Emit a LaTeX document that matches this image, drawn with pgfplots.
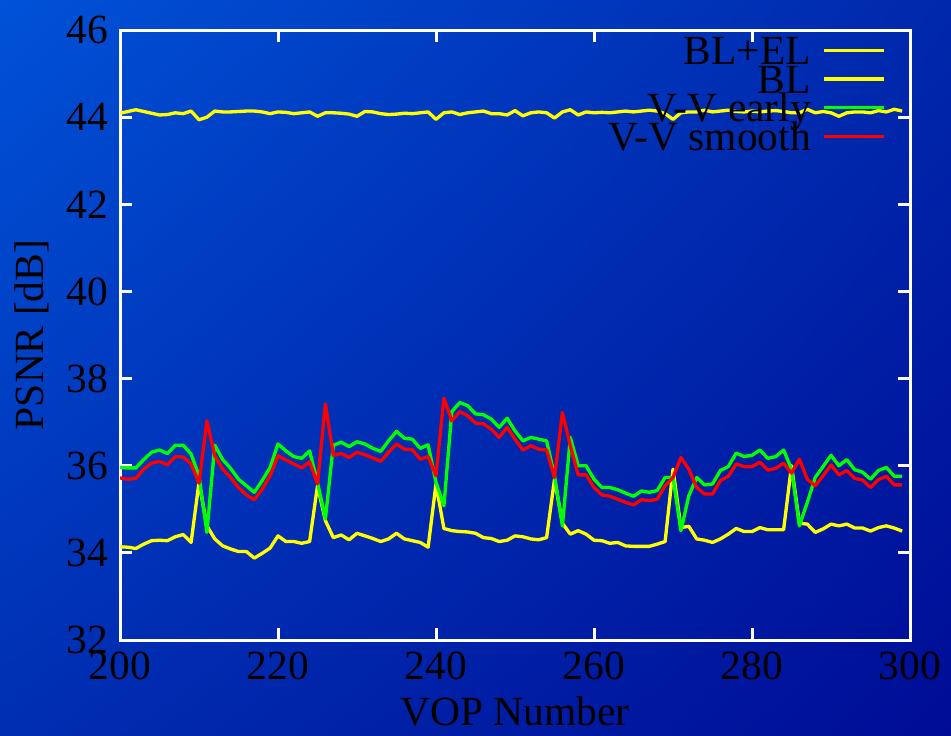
\documentclass[border=0pt]{standalone}
\usepackage{pgfplots}
\pgfplotsset{compat=1.18}
\usetikzlibrary{shadings}
\usepackage{fontspec}
\setmainfont{Liberation Serif}
\definecolor{bgTL}{RGB}{0,82,216}
\definecolor{bgTR}{RGB}{0,40,172}
\definecolor{bgBL}{RGB}{0,46,178}
\definecolor{bgBR}{RGB}{0,12,150}
\definecolor{ylw}{RGB}{255,255,0}
\definecolor{grn}{RGB}{0,255,0}
\definecolor{rd}{RGB}{255,0,0}
\pgfplotstableread{
x blel bl early smooth
200 44.09 34.14 35.96 35.72
201 44.13 34.13 35.95 35.69
202 44.17 34.10 35.95 35.71
203 44.13 34.20 36.14 35.92
204 44.09 34.28 36.31 36.06
205 44.05 34.29 36.36 36.10
206 44.06 34.28 36.28 36.02
207 44.10 34.37 36.47 36.21
208 44.08 34.42 36.47 36.20
209 44.14 34.24 36.27 36.04
210 43.94 35.62 35.77 35.60
211 44.00 34.62 34.47 37.03
212 44.14 34.32 36.47 36.23
213 44.12 34.16 36.14 35.92
214 44.12 34.09 35.94 35.73
215 44.13 34.03 35.69 35.50
216 44.14 34.03 35.54 35.33
217 44.14 33.88 35.39 35.22
218 44.12 33.99 35.66 35.46
219 44.08 34.11 35.96 35.77
220 44.12 34.39 36.50 36.23
221 44.11 34.26 36.34 36.13
222 44.08 34.26 36.21 36.04
223 44.10 34.22 36.17 35.95
224 44.12 34.26 36.34 36.09
225 44.02 35.54 35.62 35.58
226 44.10 34.74 34.78 37.42
227 44.10 34.35 36.47 36.24
228 44.09 34.41 36.54 36.28
229 44.07 34.30 36.44 36.19
230 44.02 34.45 36.55 36.31
231 44.13 34.39 36.50 36.25
232 44.12 34.33 36.40 36.18
233 44.08 34.26 36.33 36.10
234 44.06 34.32 36.57 36.31
235 44.07 34.45 36.79 36.50
236 44.09 34.32 36.63 36.38
237 44.08 34.28 36.61 36.37
238 44.10 34.24 36.40 36.15
239 44.12 34.13 36.48 36.21
240 43.95 35.58 35.62 35.77
241 44.10 34.56 35.08 37.55
242 44.12 34.51 37.24 37.03
243 44.06 34.49 37.45 37.24
244 44.10 34.48 37.38 37.15
245 44.12 34.45 37.19 36.98
246 44.14 34.35 37.17 36.96
247 44.08 34.33 37.07 36.84
248 44.08 34.26 36.88 36.65
249 44.05 34.29 37.09 36.88
250 44.15 34.39 36.80 36.61
251 44.03 34.37 36.57 36.36
252 44.10 34.32 36.65 36.46
253 44.12 34.30 36.61 36.38
254 44.10 34.35 36.57 36.36
255 43.98 35.69 35.77 35.73
256 44.12 34.68 34.62 37.22
257 44.17 34.43 36.65 36.46
258 44.05 34.51 36.00 35.79
259 44.12 34.43 36.00 35.79
260 44.10 34.29 35.69 35.50
261 44.11 34.28 35.50 35.33
262 44.10 34.22 35.50 35.30
263 44.12 34.24 35.45 35.23
264 44.14 34.16 35.37 35.16
265 44.12 34.15 35.30 35.10
266 44.14 34.15 35.42 35.22
267 44.16 34.15 35.39 35.20
268 44.14 34.20 35.43 35.23
269 44.08 34.26 35.73 35.54
270 43.95 35.92 35.73 35.73
271 44.10 34.58 34.51 36.19
272 44.12 34.61 35.31 35.92
273 44.12 34.32 35.73 35.50
274 44.16 34.29 35.56 35.35
275 44.12 34.24 35.58 35.35
276 44.14 34.32 35.89 35.66
277 44.16 34.43 35.98 35.76
278 44.13 34.56 36.29 36.04
279 44.12 34.49 36.21 35.98
280 44.14 34.49 36.24 35.98
281 44.12 34.58 36.36 36.08
282 44.14 34.53 36.17 35.90
283 44.15 34.53 36.21 35.94
284 44.13 34.53 36.36 36.06
285 44.10 36.00 35.92 35.83
286 44.10 34.68 34.62 36.15
287 44.18 34.66 35.16 35.69
288 44.10 34.47 35.73 35.54
289 44.13 34.55 35.98 35.77
290 44.10 34.66 36.24 36.02
291 44.02 34.62 36.00 35.79
292 44.10 34.66 36.14 35.89
293 44.12 34.57 35.91 35.71
294 44.12 34.57 35.85 35.67
295 44.10 34.50 35.69 35.50
296 44.15 34.58 35.89 35.68
297 44.12 34.62 35.96 35.76
298 44.18 34.57 35.76 35.56
299 44.14 34.50 35.76 35.56
}\datatable
\begin{document}
\begin{tikzpicture}
\shade[upper left=bgTL, upper right=bgTR, lower left=bgBL, lower right=bgBR] (0pt,0pt) rectangle (285.3pt,220.5pt);
\path[use as bounding box] (0pt,0pt) rectangle (285.3pt,220.5pt);
\begin{axis}[
  at={(36pt,28.5pt)}, anchor=south west,
  scale only axis, width=237pt, height=183pt,
  xmin=200, xmax=300, ymin=32, ymax=46,
  xtick={200,220,...,300}, ytick={32,34,...,46},
  axis line style={white, line width=0.9pt},
  tick style={white, line width=0.9pt},
  major tick length=3.6pt,
  tick align=inside,
  font=\fontsize{12.45}{14}\selectfont,
  tick label style={font=\fontsize{12.45}{14}\selectfont, black},
  /pgf/number format/assume math mode=true,
  xlabel={VOP Number}, ylabel={PSNR [dB]},
  xlabel style={at={(axis description cs:0.5,0)}, anchor=base, yshift=-25.5pt},
  ylabel style={at={([xshift=-22.8pt]axis description cs:0,0.5)}, anchor=base},
  label style={font=\fontsize{12.45}{14}\selectfont},
  legend plot pos=right,
  legend image code/.code={\path (0pt,0pt); \draw[#1] (0pt,4.2pt) -- (18pt,4.2pt);},
  legend style={draw=none, fill=none, inner sep=0pt, row sep=0pt, column sep=3.3pt,
    at={(rel axis cs:0.9696,0.989)}, anchor=north east,
    cells={anchor=base east},
    nodes={inner sep=0pt, text height=8.1pt, text depth=0.05pt},
    font=\fontsize{12.45}{14}\selectfont},
  every axis plot/.append style={line width=1pt, line join=round},
]
\addplot[ylw, no markers] table[x=x, y=blel] {\datatable};
\addlegendentry{BL+EL}
\addplot[ylw, no markers] table[x=x, y=bl] {\datatable};
\addlegendentry{BL}
\addplot[grn, no markers] table[x=x, y=early] {\datatable};
\addlegendentry{V-V early}
\addplot[rd, no markers] table[x=x, y=smooth] {\datatable};
\addlegendentry{V-V smooth}
\end{axis}
\end{tikzpicture}
\end{document}
